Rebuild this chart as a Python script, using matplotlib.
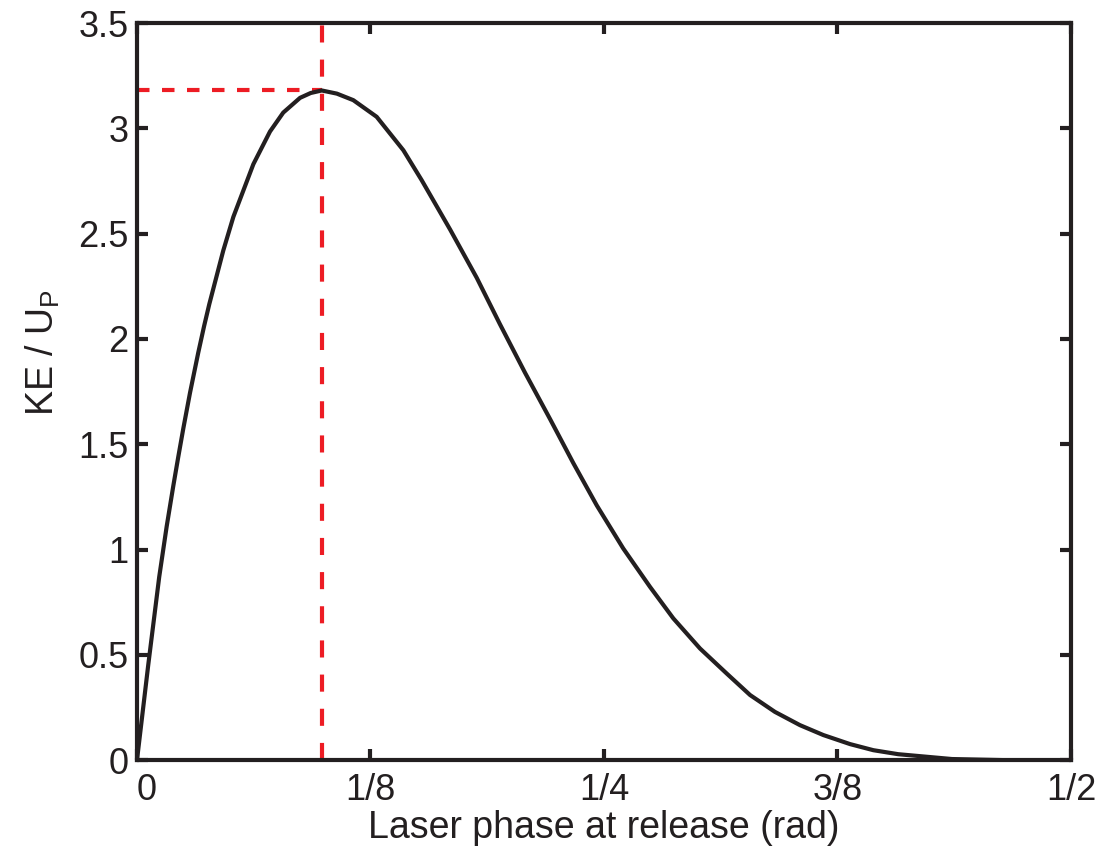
import numpy as np
import matplotlib
matplotlib.use('Agg')
import matplotlib.pyplot as plt

plt.rcParams['font.family'] = ['Liberation Sans', 'DejaVu Sans']
plt.rcParams['mathtext.fontset'] = 'custom'
plt.rcParams['mathtext.rm'] = 'Liberation Sans'

# curve (phase, KE/Up)
phase = [0.0, 0.006, 0.0119, 0.0159, 0.0194, 0.0221, 0.0248, 0.0284, 0.0328,
         0.0359, 0.0387, 0.0462, 0.0516, 0.0623, 0.0712, 0.0783, 0.0873,
         0.093, 0.0989, 0.107, 0.1158, 0.1283, 0.1426, 0.1524, 0.1676,
         0.1819, 0.1943, 0.2077, 0.2211, 0.2336, 0.2461, 0.2603, 0.2746,
         0.2871, 0.3014, 0.3157, 0.3282, 0.3415, 0.3549, 0.3674, 0.3817,
         0.3942, 0.4075, 0.4363, 0.4636, 0.4989]
ke = [0.0, 0.45, 0.87, 1.11, 1.30, 1.44, 1.575, 1.745, 1.935,
      2.06, 2.165, 2.42, 2.58, 2.83, 2.985, 3.075, 3.145,
      3.168, 3.18, 3.165, 3.134, 3.055, 2.896, 2.754, 2.52,
      2.29, 2.07, 1.84, 1.62, 1.41, 1.21, 1.005, 0.823,
      0.673, 0.530, 0.411, 0.309, 0.229, 0.166, 0.119, 0.076,
      0.047, 0.028, 0.005, 0.0, 0.0]

peak_phase = 0.099
peak_ke = 3.18

xticks = [0, 1/8, 1/4, 3/8, 1/2]
xticklabels = ['0', '1/8', '1/4', '3/8', '1/2']
yticks = [0, 0.5, 1, 1.5, 2, 2.5, 3, 3.5]
yticklabels = ['0', '0.5', '1', '1.5', '2', '2.5', '3', '3.5']

ink = '#231f20'
red = '#ed1c24'

fig = plt.figure(figsize=(11.11, 8.55), dpi=100)
ax = fig.add_axes([0.1233, 0.111, 0.8407, 0.862])

ax.plot(phase, ke, color=ink, lw=3.0, zorder=3, solid_joinstyle='round')
ax.axvline(peak_phase, color=red, lw=3.0, ls=(0, (4.1, 4.1)), zorder=2)
ax.plot([0, peak_phase], [peak_ke, peak_ke], color=red, lw=3.0,
        ls=(0, (3.0, 3.0)), zorder=2)

ax.set_xlim(0, 0.5)
ax.set_ylim(0, 3.5)
ax.set_xticks(xticks)
ax.set_xticklabels(xticklabels)
ax.set_yticks(yticks)
ax.set_yticklabels(yticklabels)
ax.get_xticklabels()[0].set_ha('left')

ax.tick_params(direction='in', length=8, width=3, top=True, right=True,
               labelsize=26, colors=ink)
ax.tick_params(axis='x', pad=9)
ax.tick_params(axis='y', pad=6)
for s in ax.spines.values():
    s.set_linewidth(3)
    s.set_color(ink)

ax.set_xlabel('Laser phase at release (rad)', fontsize=27, color=ink,
              labelpad=2)
ax.set_ylabel(r'KE / U$_\mathregular{P}$', fontsize=27, color=ink)
ax.yaxis.set_label_coords(-0.08, 0.553)

plt.savefig('out.png', dpi=100)
